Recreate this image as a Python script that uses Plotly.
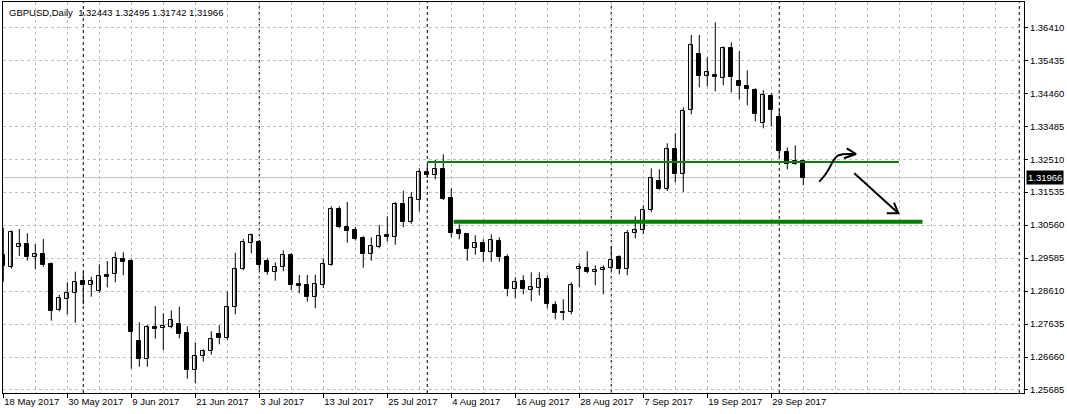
import plotly.graph_objects as go
import pandas as pd

# ---- Data (GBPUSD daily) ----
opens = [1.29677, 1.29331, 1.29922, 1.29993, 1.29609, 1.29697, 1.29402, 1.28041, 1.28367, 1.28562,
         1.28899, 1.28798, 1.28603, 1.29094, 1.29115, 1.29558, 1.29499, 1.27134, 1.26592, 1.27539,
         1.27509, 1.27539, 1.27627, 1.27361, 1.26267, 1.26681, 1.26829, 1.27332, 1.27213, 1.28130,
         1.29254, 1.30023, 1.30052, 1.29490, 1.29165, 1.29313, 1.29668, 1.28819, 1.28790, 1.28444,
         1.28798, 1.29372, 1.31028, 1.30496, 1.30407, 1.30170, 1.29715, 1.29922, 1.30259, 1.30218,
         1.31176, 1.30644, 1.31294, 1.32122, 1.32033, 1.32211, 1.31353, 1.30407, 1.30289, 1.29875,
         1.30023, 1.29756, 1.30082, 1.29609, 1.28662, 1.28899, 1.28633, 1.28692, 1.28958, 1.28189,
         1.27991, 1.27982, 1.29254, 1.29283, 1.29165, 1.29224, 1.29283, 1.29609, 1.29254, 1.30318,
         1.30407, 1.30998, 1.31856, 1.31619, 1.32802, 1.32063, 1.33955, 1.35611, 1.34961, 1.34990,
         1.34902, 1.35789, 1.34813, 1.34665, 1.34547, 1.33571, 1.34369, 1.33748, 1.32713, 1.32359,
         1.32443]
highs = [1.30484, 1.30407, 1.30445, 1.30318, 1.30002, 1.30150, 1.29461, 1.28494, 1.28869, 1.29183,
         1.29183, 1.29035, 1.29402, 1.29499, 1.29756, 1.29756, 1.29558, 1.27687, 1.27607, 1.28169,
         1.27953, 1.28041, 1.28148, 1.27568, 1.27095, 1.26888, 1.27421, 1.27598, 1.28603, 1.29745,
         1.30150, 1.30306, 1.30120, 1.29579, 1.29461, 1.29816, 1.29736, 1.29085, 1.29085, 1.29094,
         1.29579, 1.31117, 1.31117, 1.31244, 1.30505, 1.30238, 1.30200, 1.30564, 1.30821, 1.31244,
         1.31578, 1.31531, 1.32240, 1.32338, 1.32486, 1.32654, 1.31649, 1.30584, 1.30320, 1.30259,
         1.30141, 1.30289, 1.30200, 1.29697, 1.29017, 1.29076, 1.29165, 1.29165, 1.29076, 1.28308,
         1.28367, 1.28869, 1.29431, 1.29786, 1.29372, 1.29372, 1.29934, 1.29668, 1.30416, 1.30821,
         1.31146, 1.32240, 1.32211, 1.32980, 1.33275, 1.34044, 1.36182, 1.36182, 1.35523, 1.36558,
         1.35848, 1.35966, 1.35700, 1.35138, 1.34606, 1.34547, 1.34458, 1.34015, 1.32861, 1.32920,
         1.32495]
lows = [1.28887, 1.29272, 1.29647, 1.29508, 1.29254, 1.29331, 1.27734, 1.28010, 1.27923, 1.27675,
        1.28219, 1.28444, 1.28560, 1.28721, 1.28869, 1.29076, 1.26314, 1.26374, 1.26374, 1.27202,
        1.26867, 1.27509, 1.27213, 1.26019, 1.25883, 1.26522, 1.26729, 1.27036, 1.27160, 1.27923,
        1.29224, 1.29727, 1.29233, 1.29094, 1.28917, 1.29195, 1.28642, 1.28544, 1.28296, 1.28100,
        1.28701, 1.29351, 1.30466, 1.30040, 1.30105, 1.29301, 1.29508, 1.29875, 1.30070, 1.29981,
        1.30496, 1.30600, 1.30957, 1.31954, 1.31915, 1.31300, 1.30200, 1.30141, 1.29508, 1.29686,
        1.29478, 1.29478, 1.29478, 1.28455, 1.28396, 1.28515, 1.28308, 1.28485, 1.28100, 1.27775,
        1.27746, 1.27923, 1.28721, 1.29136, 1.28781, 1.28515, 1.29224, 1.29106, 1.29076, 1.30170,
        1.30289, 1.30939, 1.31600, 1.31569, 1.31826, 1.31540, 1.33837, 1.34636, 1.34665, 1.34517,
        1.34695, 1.34488, 1.34281, 1.34103, 1.33630, 1.33423, 1.33482, 1.32583, 1.32211, 1.32340,
        1.31742]
closes = [1.29360, 1.30348, 1.29993, 1.29609, 1.29697, 1.29390, 1.28030, 1.28396, 1.28562, 1.28869,
          1.28798, 1.28899, 1.29056, 1.29035, 1.29579, 1.29478, 1.27409, 1.26592, 1.27539, 1.27480,
          1.27568, 1.27746, 1.27332, 1.26267, 1.26681, 1.26829, 1.27184, 1.27213, 1.28130, 1.29254,
          1.30052, 1.30259, 1.29372, 1.29165, 1.29313, 1.29668, 1.28798, 1.28760, 1.28444, 1.28819,
          1.29402, 1.31028, 1.30513, 1.30395, 1.30164, 1.29715, 1.29934, 1.30247, 1.30218, 1.31176,
          1.30644, 1.31353, 1.32122, 1.32033, 1.32211, 1.31341, 1.30336, 1.30306, 1.29863, 1.30023,
          1.29756, 1.30111, 1.29626, 1.28662, 1.28869, 1.28662, 1.28721, 1.28958, 1.28219, 1.27953,
          1.27953, 1.28781, 1.29313, 1.29165, 1.29224, 1.29283, 1.29520, 1.29254, 1.30318, 1.30407,
          1.30998, 1.31945, 1.31619, 1.32802, 1.32063, 1.33926, 1.35877, 1.34961, 1.35079, 1.34931,
          1.35789, 1.34931, 1.34665, 1.34576, 1.33837, 1.34399, 1.33955, 1.32743, 1.32359, 1.32447,
          1.31966]

start_date = "2017-05-18"
tick_labels = ["18 May 2017", "30 May 2017", "9 Jun 2017", "21 Jun 2017", "3 Jul 2017",
               "13 Jul 2017", "25 Jul 2017", "4 Aug 2017", "16 Aug 2017", "28 Aug 2017",
               "7 Sep 2017", "19 Sep 2017", "29 Sep 2017"]
price_ticks = [1.25685, 1.26660, 1.27635, 1.28610, 1.29585, 1.30560,
               1.31535, 1.32510, 1.33485, 1.34460, 1.35435, 1.36410]
title_text = "GBPUSD,Daily  1.32443 1.32495 1.31742 1.31966"
last_price = 1.31966

# horizontal levels drawn on chart (price, start bar, end bar)
level_prices = [1.32427, 1.30658]
level_start = [53.0, 56.3]
level_end = [111.95, 114.9]

# hand-drawn arrows (bar index, price)
curve_x = [102.0, 102.71, 103.25, 103.75, 104.25, 104.93, 106.46]
curve_y = [1.31844, 1.32042, 1.32240, 1.32465, 1.32604, 1.32654, 1.32663]
curve_head_x = [105.43, 106.59, 105.09]
curve_head_y = [1.32832, 1.32663, 1.32536]
down_x = [106.38, 111.88]
down_y = [1.32092, 1.30910]
down_head_x = [110.43, 111.88, 111.34]
down_head_y = [1.30910, 1.30910, 1.31223]

extra_vline_bar = 127

# ---- Build ----
n = len(opens)
dates = pd.bdate_range(start_date, periods=n)
xi = list(range(n))
date_str = [d.strftime("%d %b %Y").lstrip("0") for d in dates]
tick_pos = [date_str.index(t) for t in tick_labels]
separators = [i for i in range(1, n) if dates[i].month != dates[i - 1].month] + [extra_vline_bar]

minor_vals = [v for v in range(4, 128, 4) if v not in tick_pos]

wx, wy = [], []
for i in xi:
    wx += [i, i, None]
    wy += [lows[i], highs[i], None]

base = [min(o, c) for o, c in zip(opens, closes)]
height = [max(abs(c - o), 0.00004) for o, c in zip(opens, closes)]
fills = ["white" if c >= o else "black" for o, c in zip(opens, closes)]

grid = "#c0c0c0"
dash = "3px,3px"

fig = go.Figure()
fig.add_trace(go.Scatter(x=wx, y=wy, mode="lines", line=dict(color="black", width=1),
                         hoverinfo="skip"))
fig.add_trace(go.Bar(x=xi, y=height, base=base, width=0.5,
                     marker=dict(color=fills, line=dict(color="black", width=1)),
                     hoverinfo="skip"))
for p, s, e, w in zip(level_prices, level_start, level_end, [2, 4]):
    fig.add_trace(go.Scatter(x=[s, e], y=[p, p], mode="lines",
                             line=dict(color="#008000", width=w), hoverinfo="skip"))
for ax, ay in [(curve_x, curve_y), (curve_head_x, curve_head_y),
               (down_x, down_y), (down_head_x, down_head_y)]:
    fig.add_trace(go.Scatter(x=ax, y=ay, mode="lines",
                             line=dict(color="black", width=2,
                                       shape="spline" if ax is curve_x else "linear"),
                             hoverinfo="skip"))

shapes = []
for s in separators:
    shapes.append(dict(type="line", xref="x", yref="paper", x0=s, x1=s, y0=0, y1=1,
                       line=dict(color="black", width=1, dash=dash), layer="between"))
shapes.append(dict(type="line", xref="paper", yref="y", x0=0, x1=1, y0=last_price, y1=last_price,
                   line=dict(color=grid, width=1), layer="between"))

font = "Liberation Sans, Arial, sans-serif"
fs = 9.5
fig.update_layout(
    width=1067, height=414,
    margin=dict(l=3, r=43, t=2, b=21, autoexpand=False),
    paper_bgcolor="white", plot_bgcolor="white",
    showlegend=False, bargap=0,
    font=dict(family=font, size=fs, color="black"),
    shapes=shapes,
    annotations=[
        dict(xref="paper", yref="paper", x=0, y=1, xanchor="left", yanchor="top",
             xshift=4, yshift=-3, text=title_text, showarrow=False,
             font=dict(family=font, size=fs, color="black")),
        dict(xref="paper", yref="y", x=1, y=last_price, xanchor="left", yanchor="middle",
             xshift=2, text=f"{last_price:.5f}", showarrow=False, bgcolor="black",
             borderpad=1, font=dict(family=font, size=fs, color="white")),
    ],
)
fig.update_xaxes(
    range=[-0.0375, 127.59], showline=True, mirror=True, linecolor="black", linewidth=1,
    tickmode="array", tickvals=tick_pos, ticktext=tick_labels, ticks="outside", ticklen=4,
    tickcolor="black", ticklabelposition="outside right", tickangle=0, automargin=False,
    showgrid=True, gridcolor=grid, gridwidth=1, griddash=dash, zeroline=False,
    minor=dict(tickvals=minor_vals, showgrid=True, gridcolor=grid, gridwidth=1,
               griddash=dash, ticks=""),
)
fig.update_yaxes(
    side="right", range=[1.25596, 1.37158], showline=True, mirror=True, linecolor="black",
    linewidth=1, tickmode="array", tickvals=price_ticks, automargin=False,
    ticktext=[f"{v:.5f}" for v in price_ticks], ticks="outside", ticklen=3, tickcolor="black",
    showgrid=True, gridcolor=grid, gridwidth=1, griddash=dash, zeroline=False,
)

fig.write_html("out.html", config={"displayModeBar": False},
               post_script="document.body.style.margin='0';document.body.style.overflow='hidden';")
